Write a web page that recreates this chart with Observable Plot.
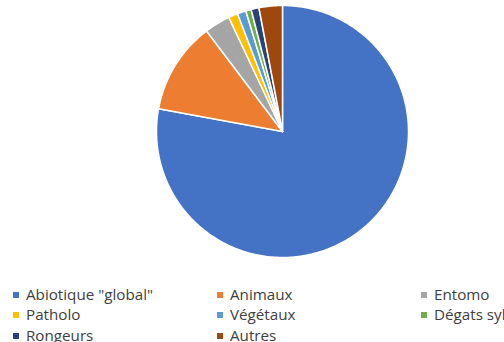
<!DOCTYPE html>
<html>
<head>
<meta charset="utf-8">
<script src="https://cdn.jsdelivr.net/npm/d3@7"></script>
<script src="https://cdn.jsdelivr.net/npm/@observablehq/plot@0.6"></script>
<style>
  html, body { margin: 0; padding: 0; background: #fff; width: 504px; height: 342px; overflow: hidden; }
  #chart { position: relative; width: 504px; height: 342px; overflow: hidden; }
  #legend { position: absolute; left: 0; top: 284.5px; width: 700px; font-family: "Open Sans", sans-serif; font-size: 15.2px; color: #404040; }
  .item { position: absolute; white-space: nowrap; line-height: 19px; }
  .sw { display: inline-block; width: 6px; height: 6px; margin-right: 7px; vertical-align: 2px; }
</style>
</head>
<body>
<div id="chart"></div>
<script>
const categories = ["Abiotique \"global\"", "Animaux", "Entomo", "Patholo", "Végétaux", "Dégats syl", "Rongeurs", "Autres"];
const shares = [77.9, 11.8, 3.3, 1.2, 1.1, 0.7, 1.0, 3.0];
const colors = ["#4472C4", "#ED7D31", "#A5A5A5", "#FFC000", "#5B9BD5", "#70AD47", "#264478", "#9E480E"];

// Build slice outlines (unit circle) from the shares, clockwise from 12 o'clock
const total = d3.sum(shares);
const pts = [];
let start = 0;
categories.forEach((name, i) => {
  const a0 = start / total * 2 * Math.PI;
  const a1 = (start + shares[i]) / total * 2 * Math.PI;
  start += shares[i];
  pts.push({name, x: 0, y: 0});
  const n = Math.max(2, Math.ceil((a1 - a0) / (Math.PI / 180)));
  for (let k = 0; k <= n; k++) {
    const a = a0 + (a1 - a0) * k / n;
    pts.push({name, x: Math.sin(a), y: Math.cos(a)});
  }
});

const plot = Plot.plot({
  width: 504,
  height: 272,
  marginLeft: 156,
  marginRight: 96,
  marginTop: 5,
  marginBottom: 15,
  x: {domain: [-1, 1], axis: null},
  y: {domain: [-1, 1], axis: null},
  color: {domain: categories, range: colors},
  marks: [
    Plot.line(pts, {x: "x", y: "y", z: "name", fill: "name", stroke: "white", strokeWidth: 1.5, curve: "linear-closed", strokeLinejoin: "round"})
  ]
});
const chart = document.getElementById("chart");
chart.appendChild(plot);

const legend = document.createElement("div");
legend.id = "legend";
const colX = [13, 217, 421];
categories.forEach((name, i) => {
  const col = i % 3, row = Math.floor(i / 3);
  const it = document.createElement("div");
  it.className = "item";
  it.style.left = colX[col] + "px";
  it.style.top = (row * 20.7) + "px";
  const sw = document.createElement("span");
  sw.className = "sw";
  sw.style.background = colors[i];
  it.appendChild(sw);
  it.appendChild(document.createTextNode(name));
  legend.appendChild(it);
});
chart.appendChild(legend);
</script>
</body>
</html>
